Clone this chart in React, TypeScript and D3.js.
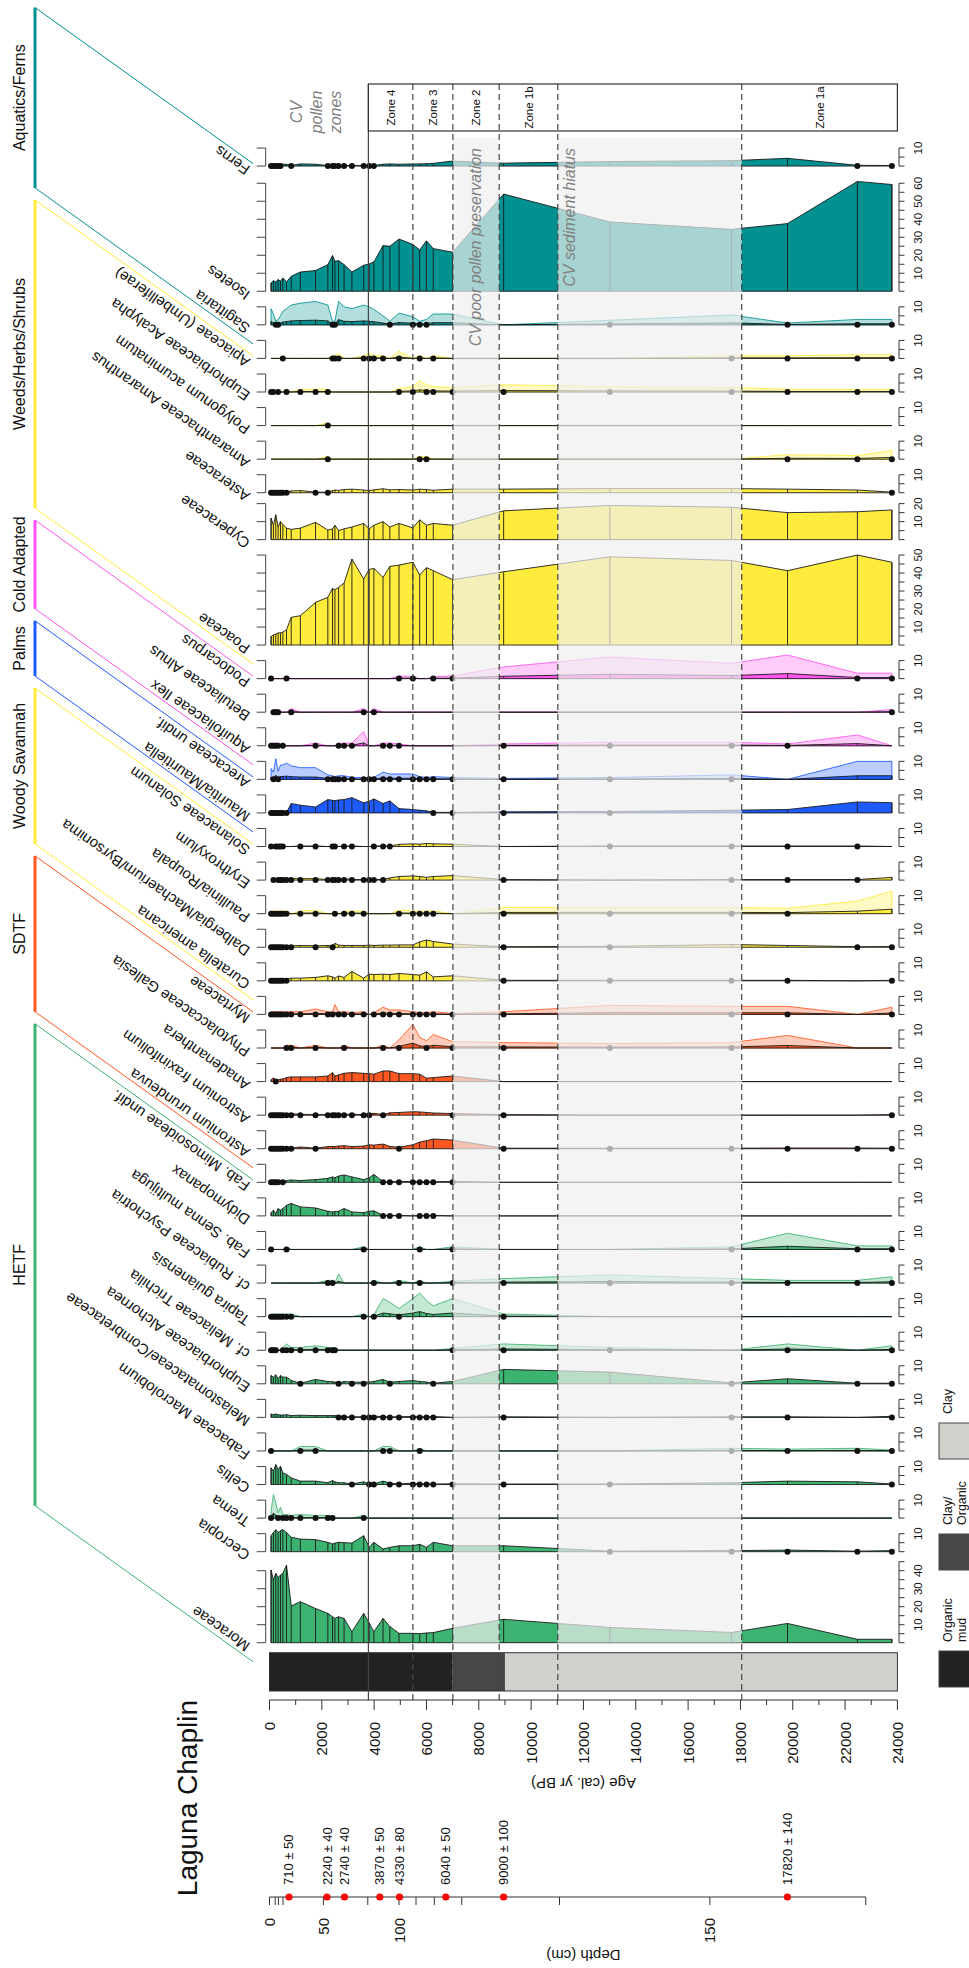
import React from "react";
import * as d3 from "d3";

// ---------- DATA ----------
const AGES = [60, 150, 240, 330, 420, 510, 650, 830, 1180, 1760, 2230, 2410, 2500, 2640, 2850, 3150, 3600, 3810, 3990, 4340, 4600, 4950, 5480, 5740, 6000, 6260, 7000, 8950, 13010, 17660, 19800, 22470, 23790];

// HETF
const moraceae = [40.4, 34.8, 38.5, 36.3, 37.6, 38.5, 43.1, 20.4, 22.8, 19.0, 16.3, 14.4, 13.5, 14.4, 13.5, 6.1, 16.3, 11.0, 6.1, 13.5, 9.0, 5.2, 5.2, 5.0, 5.4, 5.6, 8.0, 13.0, 8.5, 5.7, 10.7, 1.9, 1.9];
const cecropia = [8.9, 10.7, 12.2, 10.7, 11.7, 12.2, 10.7, 8.0, 7.0, 6.7, 5.2, 4.3, 4.8, 5.2, 5.0, 4.8, 8.9, 2.5, 5.2, 1.5, 2.4, 3.3, 3.3, 4.1, 2.4, 5.2, 3.3, 3.3, 0.3, 0.6, 0.9, 0.3, 0.6];
const trema = [0.8, 2.7, 1.7, 0.6, 1.2, 0.4, 0.4, 0.3, 0.4, 0.3, 0.3, 0.3, 0, 0, 0, 0, 0.3, 0, 0, 0, 0, 0, 0, 0, 0, 0, 0, 0, 0, 0, 0, 0, 0];
const celtis = [9.3, 7.4, 11.1, 8.3, 10.2, 6.5, 5.6, 3.7, 1.9, 1.9, 1.0, 2.2, 1.5, 1.0, 1.0, 0.3, 1.5, 0.3, 0.3, 1.9, 0.8, 0.3, 0.8, 0.3, 0.5, 0.3, 0.4, 0.3, 0.3, 1.0, 1.9, 1.5, 0.3];
const fabMacrolobium = [0.3, 0, 0, 0, 0, 0, 0, 0, 0.5, 0.5, 0, 0, 0, 0, 0, 0, 0, 0, 0, 0.5, 0.5, 0, 0, 0.3, 0, 0, 0, 0, 0, 0.3, 0.2, 0.3, 0.1];
const melastomataceae = [1.9, 1.5, 1.9, 1.5, 1.3, 1.3, 1.5, 1.0, 1.2, 1.0, 1.0, 1.0, 1.0, 0.8, 0.3, 0.3, 0.3, 0.8, 0.8, 0.3, 0.3, 0.3, 0.5, 0.3, 0.3, 0.5, 0, 0.3, 0, 0.3, 0.3, 0, 0.6];
const euphAlchornea = [4.6, 3.7, 5.0, 2.8, 4.6, 3.7, 3.7, 1.9, 0.3, 2.4, 1.3, 1.2, 1.0, 0.3, 1.3, 0.9, 0.9, 1.0, 1.3, 2.4, 0.9, 1.3, 1.8, 1.3, 1.0, 0.3, 1.3, 8.0, 6.5, 0.5, 2.8, 0.3, 0.3];
const cfMeliaceae = [0.3, 0.3, 0.3, 0, 0, 0.3, 0.7, 0.3, 0.3, 0.5, 0.3, 0.3, 0.3, 0, 0, 0, 0, 0, 0, 0, 0, 0, 0, 0, 0, 0, 0.2, 0.7, 0.3, 0, 0.7, 0, 0.5];
const tapira = [0.3, 0.3, 0.3, 0.3, 0.3, 0.3, 0.3, 0.3, 0, 0, 0, 0, 0, 0, 0, 0, 0.3, 0, 0.2, 2.0, 1.6, 0.9, 2.0, 2.8, 1.8, 1.2, 2.0, 0.3, 0, 0, 0, 0, 0];
const cfRubiaceae = [0, 0, 0, 0, 0, 0, 0, 0, 0, 0, 0.3, 0.3, 0, 1.0, 0, 0, 0, 0, 0.3, 0, 0, 0.3, 0, 0.3, 0, 0, 0.2, 0.5, 0.9, 0.5, 0.3, 0.3, 0.7];
const fabSenna = [0.3, 0, 0, 0, 0, 0, 0.3, 0, 0, 0, 0, 0, 0, 0, 0, 0, 0.3, 0, 0, 0, 0, 0, 0, 0.3, 0, 0, 0.3, 0, 0, 0.3, 1.8, 0.4, 0.4];
const didymopanax = [1.9, 3.1, 1.3, 4.1, 3.1, 4.1, 5.9, 6.9, 5.0, 4.4, 2.6, 2.2, 2.4, 2.6, 4.1, 2.2, 1.8, 2.6, 2.8, 0.3, 0.3, 0.3, 0, 0.3, 0.3, 0.3, 0, 0, 0, 0, 0, 0, 0];
const fabMimosoideae = [0.3, 0.3, 0.3, 0.3, 0, 0.3, 1.0, 1.3, 1.0, 1.5, 2.2, 3.0, 2.5, 3.5, 4.1, 3.0, 1.5, 2.5, 4.4, 0.3, 0.3, 0.5, 0.4, 0.3, 0.3, 0.3, 0.5, 0, 0, 0, 0, 0, 0];
// SDTF
const astroniumUrundeuva = [0.3, 0.3, 0.5, 0.5, 0.5, 0.8, 0.8, 0.3, 1.0, 0.3, 1.2, 1.3, 1.2, 1.5, 1.7, 1.2, 1.5, 2.2, 2.0, 2.6, 1.3, 0.8, 2.2, 3.7, 4.5, 5.4, 4.8, 0.3, 0.3, 0.3, 0.4, 0.4, 0.3];
const astroniumFraxinifolium = [0.3, 0.3, 0.3, 0.3, 0.3, 0.3, 0.3, 0.8, 0.5, 0.3, 0.3, 0.3, 0.3, 0.3, 0.5, 0.5, 0.3, 0.8, 1.0, 0.3, 1.3, 1.5, 1.9, 1.8, 1.5, 1.2, 0.9, 0.3, 0, 0, 0, 0, 0.3];
const anadenanthera = [1.0, 2.0, 0.8, 1.0, 1.3, 1.5, 2.2, 2.6, 2.6, 2.6, 3.1, 5.0, 3.1, 3.7, 4.6, 5.0, 4.6, 4.4, 4.1, 5.9, 5.9, 4.4, 4.4, 4.1, 1.9, 2.2, 3.1, 0, 0, 0, 0, 0, 0];
const phytolaccaceae = [0, 0, 0, 0, 0, 0, 0.3, 0.3, 0, 0.3, 0, 0, 0, 0, 0.3, 0, 0, 0, 0, 0.3, 0, 0.9, 2.7, 1.2, 0.8, 1.5, 0.7, 0.6, 0.5, 0.6, 1.4, 0, 0];
const myrtaceae = [0.3, 0.3, 0.3, 0.3, 0.3, 0.3, 0.3, 0.3, 0.3, 0.6, 0.3, 0.3, 1.1, 0.3, 0.3, 0.2, 0.3, 0, 0.2, 0.8, 0.5, 0.5, 0.3, 0.2, 0.2, 0.3, 0.1, 0.3, 1.0, 0.9, 0.9, 0, 0.8];
// Woody Savannah
const curatella = [0.3, 0.3, 0.3, 0.3, 0.3, 0.3, 0.8, 1.5, 1.5, 1.9, 2.8, 2.2, 1.5, 2.7, 1.9, 5.2, 1.5, 3.7, 3.5, 3.7, 3.5, 4.1, 3.5, 3.2, 5.0, 2.2, 2.8, 0.3, 0.3, 0.3, 0.3, 0, 0.3];
const dalbergia = [0.3, 0.5, 0.3, 0.5, 0.5, 0.3, 0.5, 0.8, 1.0, 0.8, 1.0, 0.5, 2.2, 1.2, 1.0, 1.0, 1.0, 1.2, 1.0, 1.2, 1.2, 1.3, 1.3, 3.0, 4.0, 3.2, 1.8, 0.3, 0.5, 1.5, 1.0, 0.3, 0.4];
const paullinia = [0.3, 0.3, 0.3, 0.3, 0.3, 0.3, 0.3, 0, 0.3, 0.4, 0, 0, 0.3, 0, 0.3, 0.3, 0.3, 0, 0, 0, 0, 0.4, 0.3, 0.3, 0.3, 0.3, 0, 0.7, 0.7, 0.7, 0.6, 1.4, 2.5];
const erythroxylum = [0, 0.3, 0, 0.3, 0.3, 0.5, 0.8, 0.8, 0.8, 0.8, 0.3, 0.3, 0.3, 0.3, 0.8, 0.3, 0.3, 0.8, 0.3, 0.3, 1.2, 2.0, 2.3, 2.0, 1.5, 2.0, 2.5, 0.3, 0, 0.3, 0.3, 0.3, 1.5];
const solanaceae = [0.3, 0, 0.3, 0.3, 0.3, 0.3, 0, 0, 0.3, 0.3, 0, 0.3, 0.3, 0, 0.3, 0.3, 0, 0, 0.3, 0.3, 0.3, 1.2, 1.5, 1.3, 1.7, 1.5, 1.3, 0, 0.3, 0.3, 0.3, 0.3, 0];
// Palms
const mauritia = [0.3, 0.3, 0.3, 0.3, 0.3, 0.3, 0.3, 5.2, 4.3, 3.3, 7.4, 7.0, 6.8, 7.2, 7.4, 8.5, 5.6, 6.5, 7.8, 5.2, 6.7, 2.4, 1.9, 1.5, 1.2, 0.3, 0.3, 0.6, 0.8, 1.5, 1.9, 6.1, 5.7];
const arecaceae = [1.2, 0.8, 2.3, 0.9, 1.6, 1.6, 1.8, 1.5, 1.3, 1.3, 0.5, 0.4, 0.3, 0.4, 0.4, 0.2, 0.2, 0.2, 0.2, 0.8, 0.6, 0.6, 0.6, 0.3, 0.2, 0.3, 0.2, 0.1, 0.2, 0.5, 0, 2.0, 2.0];
// Cold adapted
const aquifoliaceae = [0.3, 0.3, 0.3, 0.3, 0, 0.3, 0, 0, 0, 0.3, 0, 0, 0, 0.3, 0.3, 0.3, 1.6, 0, 0, 0.3, 0.3, 0.2, 0, 0, 0, 0, 0, 0.2, 0.4, 0.4, 0.2, 1.2, 0];
const betuliaceae = [0, 0.3, 0.3, 0.3, 0, 0, 0, 0.4, 0, 0, 0, 0, 0, 0, 0, 0, 0.4, 0, 0.4, 0, 0, 0, 0, 0, 0, 0, 0, 0, 0, 0, 0, 0, 0.3];
const podocarpus = [0.3, 0, 0, 0, 0, 0, 0.3, 0, 0, 0, 0, 0, 0, 0, 0, 0, 0, 0, 0, 0, 0, 0.3, 0.2, 0, 0, 0.2, 0.3, 1.3, 2.4, 1.7, 2.8, 0.6, 0.6];
// Weeds / herbs / shrubs
const poaceae = [4.8, 5.6, 6.1, 6.7, 6.8, 7.2, 8.5, 15.4, 16.3, 23.7, 26.5, 31.5, 30.7, 32.0, 34.4, 47.8, 36.7, 42.0, 42.6, 37.6, 43.7, 44.4, 46.0, 38.9, 43.0, 41.3, 36.3, 40.7, 49.0, 47.0, 41.3, 50.0, 46.0];
const cyperaceae = [12, 8, 13.8, 7, 10, 8.5, 6.4, 5.7, 6.4, 9.6, 5.3, 6, 8, 5, 6, 7, 9, 6, 8, 10, 7, 9, 6.5, 11, 8, 9, 8, 16, 19, 18, 15, 15.5, 16.5];
const asteraceae = [0.3, 0.3, 0.3, 0.3, 0.3, 0.3, 0.3, 1.0, 1.2, 0.3, 0.3, 1.2, 1.5, 1.3, 1.8, 2.0, 1.5, 1.2, 1.6, 2.2, 1.6, 1.8, 1.5, 2.0, 1.7, 1.4, 2.0, 2.0, 2.3, 2.3, 2.0, 1.5, 0.3];
const amaranthaceae = [0, 0, 0, 0, 0, 0, 0, 0, 0, 0, 0.3, 0, 0, 0, 0, 0, 0, 0, 0, 0, 0, 0, 0, 0.3, 0.3, 0, 0, 0, 0, 0, 0.5, 0.4, 0.95];
const polygonum = [0, 0, 0, 0, 0, 0, 0, 0, 0, 0, 0.3, 0, 0, 0, 0, 0, 0, 0, 0, 0, 0, 0, 0, 0, 0, 0, 0, 0, 0, 0, 0, 0, 0];
const euphAcalypha = [0.3, 0.3, 0, 0.3, 0, 0, 0.3, 0, 0.3, 0.3, 0.3, 0, 0, 0, 0, 0, 0, 0, 0, 0, 0, 0.4, 0.6, 1.2, 0.8, 0.6, 0.5, 0.8, 0.6, 0.5, 0.3, 0.3, 0.3];
const apiaceae = [0, 0, 0, 0, 0, 0.3, 0, 0, 0, 0, 0, 0.3, 0.3, 0.6, 0, 0, 0.3, 0.6, 0.3, 0.3, 0, 0.8, 0, 0.3, 0, 0.3, 0, 0, 0, 0.3, 0.3, 0.4, 0.4];
// Aquatics / ferns
const sagittaria = [1.8, 1.2, 0.4, 0.6, 1.0, 1.5, 1.8, 2.2, 2.4, 2.6, 2.2, 0.4, 0.4, 2.9, 2.0, 1.8, 2.2, 2.0, 1.7, 1.0, 0.4, 1.3, 0.9, 0.4, 0.6, 1.2, 1.2, 0, 0.5, 1.1, 0.2, 0.6, 0.6];
const isoetes = [4.6, 5.9, 5.2, 6.5, 5.6, 7.4, 5.2, 8.3, 10.7, 11.5, 14.8, 19.8, 16.7, 17, 14.8, 10.7, 14.4, 15.2, 16.3, 25.4, 25, 29, 26, 23, 28, 23.7, 21.7, 54, 38.5, 34.4, 37.6, 61, 59.3];
const ferns = [0.3, 0.6, 0.8, 0.3, 0.8, 1.0, 1.0, 0.3, 1.2, 1.0, 0.3, 0.3, 0.3, 0.3, 0.3, 0.3, 0.3, 0.3, 0.3, 1.0, 1.2, 1.0, 1.2, 1.2, 1.3, 1.5, 2.8, 1.6, 2.5, 3.0, 4.3, 0.4, 0.3];

const GROUPS = [
  { name: "HETF", color: "#3cb371", taxa: ["Moraceae", "Cecropia", "Trema", "Celtis", "Fabaceae Macrolobium", "Melastomataceae/Combretaceae", "Euphorbiaceae Alchornea", "cf. Meliaceae Trichilia", "Tapira guianensis", "cf. Rubiaceae Psychotria", "Fab. Senna multijuga", "Didymopanax", "Fab. Mimosoideae undif."] },
  { name: "SDTF", color: "#ff5722", taxa: ["Astronium urundeuva", "Astronium fraxinifolium", "Anadenanthera", "Phytolaccaceae Gallesia", "Myrtaceae"] },
  { name: "Woody Savannah", color: "#ffeb3b", taxa: ["Curatella americana", "Dalbergia/Machaerium/Byrsonima", "Paullinia/Roupala", "Erythroxylum", "Solanaceae Solanum"] },
  { name: "Palms", color: "#1e5bff", taxa: ["Mauritia/Mauritiella", "Arecaceae undif."] },
  { name: "Cold Adapted", color: "#ff55ee", taxa: ["Aquifoliaceae Ilex", "Betuliaceae Alnus", "Podocarpus"] },
  { name: "Weeds/Herbs/Shrubs", color: "#ffeb3b", taxa: ["Poaceae", "Cyperaceae", "Asteraceae", "Amaranthaceae Amaranthus", "Polygonum acuminatum", "Euphorbiaceae Acalypha", "Apiaceae (Umbelliferae)"] },
  { name: "Aquatics/Ferns", color: "#009190", taxa: ["Sagittaria", "Isoetes", "Ferns"] },
];

const VALUES: Record<string, number[]> = {
  "Moraceae": moraceae, "Cecropia": cecropia, "Trema": trema, "Celtis": celtis,
  "Fabaceae Macrolobium": fabMacrolobium, "Melastomataceae/Combretaceae": melastomataceae,
  "Euphorbiaceae Alchornea": euphAlchornea, "cf. Meliaceae Trichilia": cfMeliaceae,
  "Tapira guianensis": tapira, "cf. Rubiaceae Psychotria": cfRubiaceae, "Fab. Senna multijuga": fabSenna,
  "Didymopanax": didymopanax, "Fab. Mimosoideae undif.": fabMimosoideae,
  "Astronium urundeuva": astroniumUrundeuva, "Astronium fraxinifolium": astroniumFraxinifolium,
  "Anadenanthera": anadenanthera, "Phytolaccaceae Gallesia": phytolaccaceae, "Myrtaceae": myrtaceae,
  "Curatella americana": curatella, "Dalbergia/Machaerium/Byrsonima": dalbergia, "Paullinia/Roupala": paullinia,
  "Erythroxylum": erythroxylum, "Solanaceae Solanum": solanaceae,
  "Mauritia/Mauritiella": mauritia, "Arecaceae undif.": arecaceae,
  "Aquifoliaceae Ilex": aquifoliaceae, "Betuliaceae Alnus": betuliaceae, "Podocarpus": podocarpus,
  "Poaceae": poaceae, "Cyperaceae": cyperaceae, "Asteraceae": asteraceae, "Amaranthaceae Amaranthus": amaranthaceae,
  "Polygonum acuminatum": polygonum, "Euphorbiaceae Acalypha": euphAcalypha, "Apiaceae (Umbelliferae)": apiaceae,
  "Sagittaria": sagittaria, "Isoetes": isoetes, "Ferns": ferns,
};

const PANEL_MAX: Record<string, number> = { "Moraceae": 45, "Poaceae": 53, "Cyperaceae": 20.5, "Isoetes": 64 };
const EXAG_TAXA = ["Trema", "Fabaceae Macrolobium", "cf. Meliaceae Trichilia", "Tapira guianensis", "cf. Rubiaceae Psychotria", "Fab. Senna multijuga", "Phytolaccaceae Gallesia", "Myrtaceae", "Paullinia/Roupala", "Arecaceae undif.", "Aquifoliaceae Ilex", "Betuliaceae Alnus", "Podocarpus", "Amaranthaceae Amaranthus", "Polygonum acuminatum", "Euphorbiaceae Acalypha", "Apiaceae (Umbelliferae)", "Sagittaria"];
const EXAG_FACTOR = 5;

const LITHO_FROM = [0, 7000, 9000];
const LITHO_TO = [7000, 9000, 24000];
const LITHO_TYPES = ["Organic mud", "Clay/Organic", "Clay"];
const LITHO_COLORS = ["#222222", "#474747", "#d1d1cc"];
const LEGEND_LINES = [["Organic", "mud"], ["Clay/", "Organic"], ["Clay"]];

const ZONE_BOUNDS = [3780, 5480, 7010, 8780, 11020, 18050, 24000];
const ZONE_LABELS = ["Zone 4", "Zone 3", "Zone 2", "Zone 1b", "", "Zone 1a"];
const DASHED_AGES = [5480, 7010, 8780, 11020, 18050];
const SOLID_AGE = 3780;
const BAND_FROM = [7010, 11020];
const BAND_TO = [8780, 18050];
const BAND_LABELS = ["CV poor pollen preservation", "CV sediment hiatus"];
const BAND_LABEL_AGES = [8084, 11660];

const DATE_LABELS = ["710 ± 50", "2240 ± 40", "2740 ± 40", "3870 ± 50", "4330 ± 80", "6040 ± 50", "9000 ± 100", "17820 ± 140"];
const DATE_AGES = [745, 2198, 2867, 4216, 4969, 6739, 8948, 19796];
const DEPTH_TICK_AGES = [0, 218, 340, 516, 2060, 3757, 4950, 5600, 6300, 7350, 11085, 16833, 22792];
const DEPTH_TICK_LABELS = ["0", "", "", "", "50", "", "100", "", "", "", "", "150", ""];

// ---------- LAYOUT ----------
const LW = 1968; // landscape width (becomes page height)
const K = 1.8; // px per percent
const GAP = 10;
const MIN_W = 13.1;
const FIRST_X = 325.3;
const AXIS_X = 268;
const LITHO_X0 = 277;
const LITHO_X1 = 315.3;
const TOP_AXIS_Y = 265.7;
const BOT_AXIS_Y = 899;
const FONT = "'Liberation Sans', Arial, Helvetica, sans-serif";

export default function App() {
  const y = d3.scaleLinear().domain([0, 24000]).range([269.5, 897.4]);

  const panels: any[] = [];
  let cx = FIRST_X;
  GROUPS.forEach((g, gi) => {
    g.taxa.forEach((name) => {
      const w = PANEL_MAX[name] ?? MIN_W;
      const xs = d3.scaleLinear().domain([0, w]).range([cx, cx + w * K]);
      panels.push({ name, gi, color: g.color, w, xs, x0: cx, x1: cx + w * K, values: VALUES[name], exag: EXAG_TAXA.includes(name) });
      cx += w * K + GAP;
    });
  });

  const renderPanel = (p: any) => {
    const pts: [number, number][] = p.values.map((v: number, i: number) => [AGES[i], v]);
    const mk = (f: number) =>
      d3.area<[number, number]>()
        .y((d) => y(d[0]))
        .x0(p.x0)
        .x1((d) => p.xs(Math.min(p.w, d[1] * f)))(pts) as string;
    const botMax = Math.floor(p.w / 5 + 1e-6) * 5;
    const topMax = Math.floor(p.w / 10 + 1e-6) * 10;
    const botTicks = d3.range(0, botMax + 0.01, 5);
    const topTicks = d3.range(0, topMax + 0.01, 10);
    return (
      <g key={p.name}>
        {p.exag && <path d={mk(EXAG_FACTOR)} fill={p.color} fillOpacity={0.3} stroke={p.color} strokeOpacity={0.85} strokeWidth={1} />}
        <path d={mk(1)} fill={p.color} stroke="#1a1a1a" strokeWidth={0.9} />
        {pts.map((d, i) => (
          <line key={"b" + i} x1={p.x0} x2={p.xs(Math.min(p.w, d[1]))} y1={y(d[0])} y2={y(d[0])} stroke="#1a1a1a" strokeWidth={0.9} />
        ))}
        {pts.filter((d) => d[1] > 0 && d[1] < 1).map((d, i) => (
          <circle key={"d" + i} cx={p.x0} cy={y(d[0])} r={3} fill="#111" />
        ))}
        {/* bottom axis */}
        <line x1={p.x0} x2={p.xs(botMax)} y1={BOT_AXIS_Y} y2={BOT_AXIS_Y} stroke="#333" strokeWidth={1} />
        {botTicks.map((t) => (
          <line key={"bt" + t} x1={p.xs(t)} x2={p.xs(t)} y1={BOT_AXIS_Y} y2={BOT_AXIS_Y + 5.5} stroke="#333" strokeWidth={1} />
        ))}
        {botTicks.filter((t) => t > 0 && t % 10 === 0).map((t) => (
          <text key={"bl" + t} x={p.xs(t)} y={922} textAnchor="middle" fontSize={11.5} fill="#111">{t}</text>
        ))}
        {/* top axis */}
        <line x1={p.x0} x2={p.xs(topMax)} y1={TOP_AXIS_Y} y2={TOP_AXIS_Y} stroke="#444" strokeWidth={1} />
        {topTicks.map((t) => (
          <line key={"tt" + t} x1={p.xs(t)} x2={p.xs(t)} y1={TOP_AXIS_Y} y2={TOP_AXIS_Y - 9} stroke="#444" strokeWidth={1} />
        ))}
        {/* taxon label */}
        <text transform={`translate(${p.x0 - 1},${251}) rotate(-55)`} fontSize={15} fill="#111">{p.name}</text>
      </g>
    );
  };

  const majorAge = d3.range(0, 24001, 2000);
  const minorAge = d3.range(1000, 24000, 2000);

  return (
    <svg width={969} height={1968} style={{ position: "absolute", left: 0, top: 0 }} fontFamily={FONT}>
      <rect width={969} height={1968} fill="#fff" />
      <g transform={`translate(0,${LW}) rotate(-90)`}>
        {/* group brackets */}
        {GROUPS.map((g, gi) => {
          const gp = panels.filter((p) => p.gi === gi);
          const lo = gp[0].x0 - 19;
          const hi = gp[gp.length - 1].x0 + 2.5;
          return (
            <g key={g.name}>
              <line x1={lo} y1={253} x2={lo + 156} y2={35} stroke={g.color} strokeWidth={1} />
              <line x1={hi} y1={253} x2={hi + 156} y2={35} stroke={g.color} strokeWidth={1} />
              <line x1={lo + 156} y1={35} x2={hi + 156} y2={35} stroke={g.color} strokeWidth={3} />
              <text x={(lo + hi) / 2 + 156} y={25} textAnchor="middle" fontSize={16} fill="#111">{g.name}</text>
            </g>
          );
        })}

        {/* lithology */}
        {LITHO_FROM.map((f, i) => (
          <rect key={"l" + i} x={LITHO_X0} width={LITHO_X1 - LITHO_X0} y={y(f)} height={y(LITHO_TO[i]) - y(f)} fill={LITHO_COLORS[i]} />
        ))}
        <rect x={LITHO_X0} width={LITHO_X1 - LITHO_X0} y={y(0)} height={y(24000) - y(0)} fill="none" stroke="#333" strokeWidth={1} />

        {/* panels */}
        {panels.map(renderPanel)}

        {/* shaded bands */}
        {BAND_FROM.map((f, i) => (
          <rect key={"band" + i} x={FIRST_X} width={1830 - FIRST_X} y={y(f)} height={y(BAND_TO[i]) - y(f)} fill="#efefef" fillOpacity={0.7} />
        ))}

        {/* zone lines */}
        <line x1={AXIS_X} x2={1884} y1={y(SOLID_AGE)} y2={y(SOLID_AGE)} stroke="#444" strokeWidth={1.2} />
        {DASHED_AGES.map((a) => (
          <line key={"dz" + a} x1={AXIS_X} x2={1886} y1={y(a)} y2={y(a)} stroke="#444" strokeWidth={1.2} strokeDasharray="6,4" />
        ))}

        {/* band labels */}
        {BAND_LABELS.map((t, i) => (
          <text key={"bl" + i} x={1820} y={y(BAND_LABEL_AGES[i])} textAnchor="end" fontSize={16} fontStyle="italic" fill="#808080">{t}</text>
        ))}

        {/* zone box */}
        <rect x={1837} width={47} y={y(ZONE_BOUNDS[0])} height={y(24000) - y(ZONE_BOUNDS[0])} fill="none" stroke="#333" strokeWidth={1.2} />
        {ZONE_LABELS.map((z, i) => (
          <text key={"zl" + i} x={1860.5} y={(y(ZONE_BOUNDS[i]) + y(ZONE_BOUNDS[i + 1])) / 2} textAnchor="middle" dominantBaseline="central" fontSize={11.5} fill="#111">{z}</text>
        ))}
        {["CV", "pollen", "zones"].map((t, i) => (
          <text key={"cv" + i} x={1856} y={302 + i * 19.5} textAnchor="middle" fontSize={16} fontStyle="italic" fill="#808080">{t}</text>
        ))}

        {/* age axis */}
        <line x1={AXIS_X} x2={AXIS_X} y1={y(0)} y2={y(24000)} stroke="#333" strokeWidth={1} />
        {majorAge.map((a) => (
          <g key={"ma" + a}>
            <line x1={AXIS_X} x2={AXIS_X - 10} y1={y(a)} y2={y(a)} stroke="#333" strokeWidth={1} />
            <text x={AXIS_X - 22} y={y(a)} textAnchor="end" dominantBaseline="central" fontSize={15} fill="#111">{a}</text>
          </g>
        ))}
        {minorAge.map((a) => (
          <line key={"mi" + a} x1={AXIS_X} x2={AXIS_X - 5} y1={y(a)} y2={y(a)} stroke="#333" strokeWidth={1} />
        ))}
        <text transform={`translate(190,${(y(0) + y(24000)) / 2}) rotate(-90)`} textAnchor="middle" fontSize={15} fill="#111">Age (cal. yr BP)</text>

        {/* title */}
        <text x={268} y={197} textAnchor="end" fontSize={28} fill="#111">Laguna Chaplin</text>

        {/* depth axis */}
        <line x1={71} x2={71} y1={y(0)} y2={y(DEPTH_TICK_AGES[DEPTH_TICK_AGES.length - 1])} stroke="#333" strokeWidth={1} />
        {DEPTH_TICK_AGES.map((a, i) => (
          <g key={"dt" + i}>
            <line x1={71} x2={63} y1={y(a)} y2={y(a)} stroke="#333" strokeWidth={1} />
            {DEPTH_TICK_LABELS[i] && (
              <text x={50} y={y(a)} textAnchor="end" dominantBaseline="central" fontSize={15} fill="#111">{DEPTH_TICK_LABELS[i]}</text>
            )}
          </g>
        ))}
        {DATE_AGES.map((a, i) => (
          <g key={"date" + i}>
            <circle cx={71} cy={y(a)} r={3.6} fill="#ff0000" />
            <text x={83} y={y(a)} dominantBaseline="central" fontSize={13} fill="#111">{DATE_LABELS[i]}</text>
          </g>
        ))}
        <text transform={`translate(18,${(y(0) + y(24000)) / 2}) rotate(-90)`} textAnchor="middle" fontSize={15} fill="#111">Depth (cm)</text>

        {/* lithology legend */}
        {LITHO_TYPES.map((t, i) => {
          const bx = [281, 398, 509][i];
          return (
            <g key={"lg" + i}>
              <rect x={bx} y={939} width={36} height={40} fill={LITHO_COLORS[i]} stroke="#444" strokeWidth={1} />
              {LEGEND_LINES[i].map((ln, j) => (
                <text key={j} x={bx + 45} y={952 + j * 14} fontSize={12.5} fill="#111">{ln}</text>
              ))}
            </g>
          );
        })}
      </g>
    </svg>
  );
}
